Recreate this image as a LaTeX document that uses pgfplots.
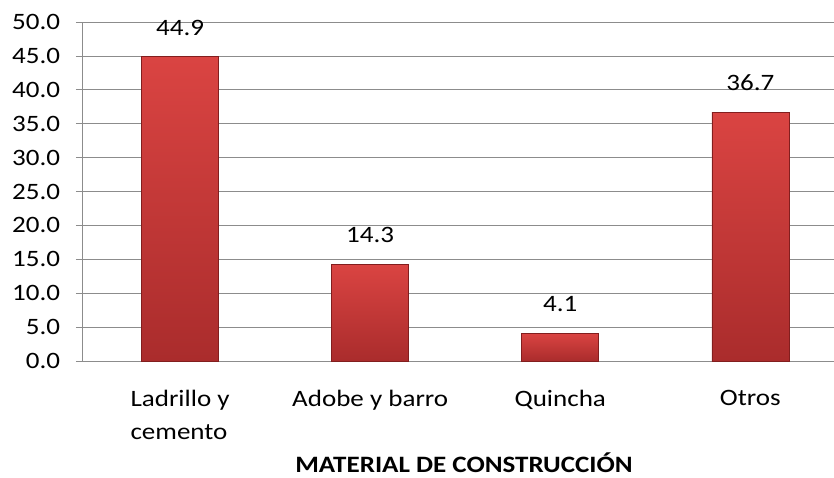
\documentclass[border=0pt]{standalone}
\usepackage{fontspec}
\setmainfont{Carlito}[FakeStretch=1.15]
\usepackage{pgfplots}
\pgfplotsset{compat=1.18}

\definecolor{barTop}{RGB}{218,68,66}
\definecolor{barBot}{RGB}{170,44,44}
\definecolor{barEdge}{RGB}{130,30,30}
\definecolor{gridGray}{RGB}{140,140,140}

\tikzset{redbar/.style={draw=barEdge, line width=0.6pt, top color=barTop, bottom color=barBot}}

\begin{document}
\fontsize{23}{33}\selectfont
\begin{tikzpicture}
    % fixed frame: axis south west is at (0,0)
    \path[use as bounding box] (-82pt,-116pt) rectangle (752pt,361pt);
    \begin{axis}[
        scale only axis,
        width=752pt, height=339pt,
        ymin=0, ymax=50, ytick={0,5,...,50},
        xmin=-0.516, xmax=3.44,
        xtick={0,1,2,3},
        xticklabels={{Ladrillo y\\cemento},{Adobe y barro},{Quincha},{Otros}},
        xticklabel style={align=left, yshift=-15pt},
        axis lines*=left,
        axis line style={gridGray},
        ymajorgrids,
        grid style={gridGray, line width=0.8pt},
        ytick pos=left,
        tick align=outside,
        major tick length=6pt,
        ytick style={gridGray, line width=0.8pt},
        xtick style={draw=none},
        /pgf/number format/assume math mode=true,
        yticklabel style={/pgf/number format/fixed, /pgf/number format/fixed zerofill,
            /pgf/number format/precision=1, xshift=-8pt},
        ticklabel style={font=\fontsize{23.5}{33}\selectfont},
        xlabel={\bfseries MATERIAL DE CONSTRUCCIÓN},
        xlabel style={font=\fontsize{23.5}{33}\selectfont, xshift=6pt, yshift=2pt},
        ybar, bar width=77pt, bar shift=0pt,
        nodes near coords,
        nodes near coords style={font=\fontsize{23.5}{33}\selectfont, text=black, inner sep=0pt,
            anchor=south, yshift=21pt,
            /pgf/number format/fixed, /pgf/number format/fixed zerofill,
            /pgf/number format/precision=1, /pgf/number format/assume math mode=true},
    ]
        \addplot[redbar] coordinates {(0,44.9)};
        \addplot[redbar] coordinates {(1,14.3)};
        \addplot[redbar] coordinates {(2,4.1)};
        \addplot[redbar] coordinates {(3,36.7)};
    \end{axis}
\end{tikzpicture}
\end{document}
